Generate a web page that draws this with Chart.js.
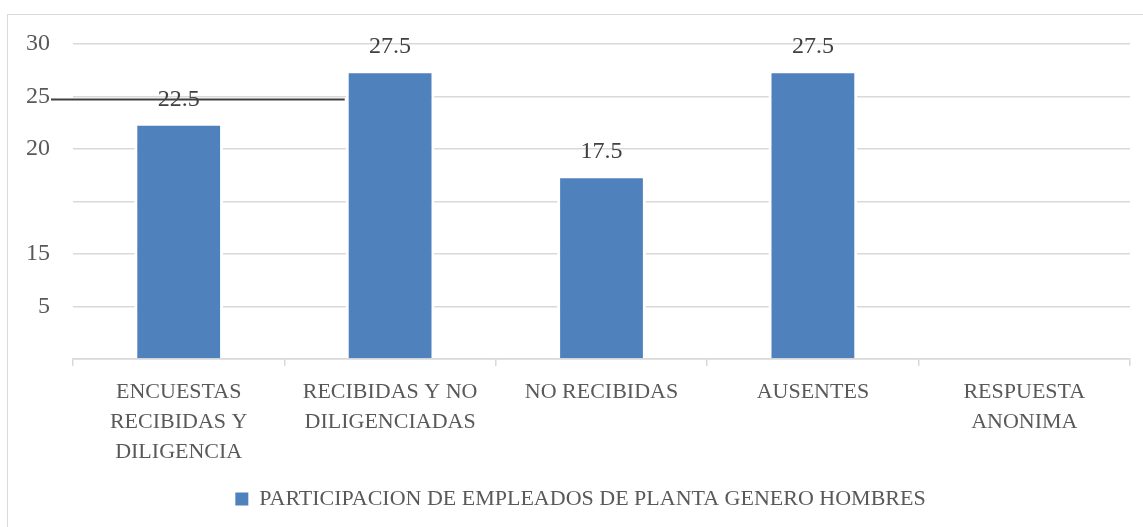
<!DOCTYPE html>
<html>
<head>
<meta charset="utf-8">
<script src="https://cdn.jsdelivr.net/npm/chart.js@4.4.1/dist/chart.umd.min.js"></script>
<style>
  html, body { margin: 0; padding: 0; background: #fff; overflow: hidden; }
  #frame { position: absolute; left: 7px; top: 14px; width: 1200px; height: 600px; border: 1px solid #d9d9d9; }
  #wrap { position: absolute; left: 0; top: 0; width: 1143px; height: 527px; }
</style>
</head>
<body>
<div id="frame"></div>
<div id="wrap"><canvas id="barChart"></canvas></div>
<script>
const categories = [
    ['ENCUESTAS', 'RECIBIDAS Y', 'DILIGENCIA'],
    ['RECIBIDAS Y NO', 'DILIGENCIADAS'],
    'NO RECIBIDAS',
    'AUSENTES',
    ['RESPUESTA', 'ANONIMA']
];
const seriesName = 'PARTICIPACION DE EMPLEADOS DE PLANTA GENERO HOMBRES';
const seriesValues = [22.5, 27.5, 17.5, 27.5, null];
// labels printed on the value axis, bottom (0) to top (30)
const yTickLabels = ['', '5', '15', '', '20', '25', '30'];
const markerValue = 25;

const FONT = '"Liberation Serif", "Times New Roman", serif';

// value labels above the bars + the stray dark rule at 25
const labelPlugin = {
    id: 'barLabels',
    afterLayout(chart) {
        // the original frame runs past the right edge, so the legend sits a bit right of centre
        chart.legend.left += 9;
        chart.legend.right += 9;
    },
    afterDatasetsDraw(chart) {
        const ctx = chart.ctx;
        const meta = chart.getDatasetMeta(0);
        const ys = chart.scales.y;
        ctx.save();
        ctx.font = '24px ' + FONT;
        ctx.fillStyle = '#404040';
        ctx.textAlign = 'center';
        ctx.textBaseline = 'alphabetic';
        meta.data.forEach((bar, i) => {
            const v = seriesValues[i];
            if (v === null) return;
            ctx.fillText(String(v), bar.x, bar.y - 17);
        });
        // dark rule
        const y = ys.getPixelForValue(markerValue) + 3;
        const second = meta.data[1];
        ctx.strokeStyle = '#404040';
        ctx.lineWidth = 2;
        ctx.beginPath();
        ctx.moveTo(chart.chartArea.left - 22, y);
        ctx.lineTo(second.x - second.width / 2 - 1, y);
        ctx.stroke();
        ctx.restore();
    }
};

new Chart(document.getElementById('barChart'), {
    type: 'bar',
    data: {
        labels: categories,
        datasets: [{
            label: seriesName,
            data: seriesValues,
            backgroundColor: '#4f81bd',
            borderColor: '#ffffff',
            borderWidth: 3,
            barPercentage: 0.42,
            categoryPercentage: 1.0
        }]
    },
    options: {
        responsive: true,
        maintainAspectRatio: false,
        animation: false,
        layout: { padding: { left: 13, right: 13, top: 44, bottom: 7 } },
        plugins: {
            tooltip: { enabled: false },
            legend: {
                position: 'bottom',
                labels: {
                    color: '#595959',
                    font: { family: FONT, size: 22, lineHeight: 1.2 },
                    boxWidth: 13,
                    boxHeight: 13,
                    padding: 10,
                    generateLabels: (chart) =>
                        Chart.defaults.plugins.legend.labels.generateLabels(chart)
                            .map(item => ({ ...item, lineWidth: 0, strokeStyle: 'rgba(0,0,0,0)' }))
                }
            }
        },
        scales: {
            x: {
                grid: { drawOnChartArea: false, drawTicks: true, tickLength: 7, color: '#d9d9d9', lineWidth: 1.5 },
                border: { color: '#d9d9d9', width: 1.5 },
                ticks: {
                    color: '#595959',
                    font: { family: FONT, size: 22, lineHeight: '30px' },
                    padding: 11,
                    maxRotation: 0,
                    autoSkip: false
                }
            },
            y: {
                min: 0,
                max: 30,
                afterFit(scale) { scale.width = 60; },
                grid: { color: '#d9d9d9', lineWidth: 1.5, drawTicks: false },
                border: { display: false },
                ticks: {
                    stepSize: 5,
                    padding: 23,
                    color: '#595959',
                    font: { family: FONT, size: 24 },
                    callback: (v, i) => yTickLabels[i]
                }
            }
        }
    },
    plugins: [labelPlugin]
});
</script>
</body>
</html>
